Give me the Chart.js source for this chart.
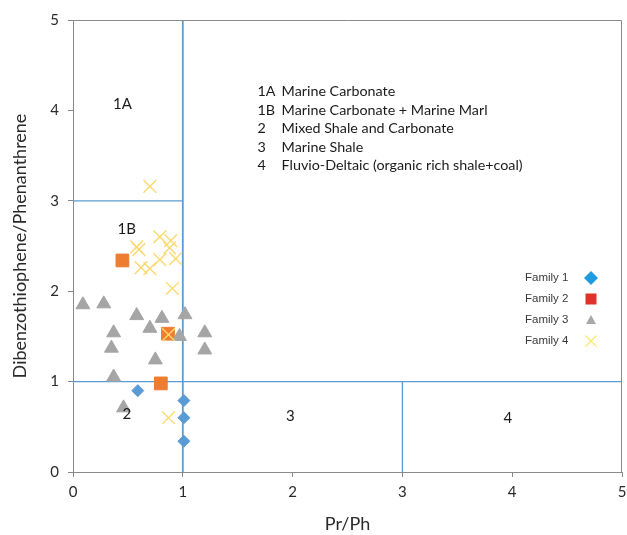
<!DOCTYPE html>
<html>
<head>
<meta charset="utf-8">
<script src="https://cdn.jsdelivr.net/npm/chart.js@4"></script>
<style>
html,body{margin:0;padding:0;background:#fff;}
#wrap{position:relative;width:627px;height:535px;}
</style>
</head>
<body>
<div id="wrap"><canvas id="c" width="627" height="535"></canvas></div>
<script>
// ---- data ----
const xTicks = [0, 1, 2, 3, 4, 5];
const yTicks = [0, 1, 2, 3, 4, 5];
const seriesNames = ['Family 1', 'Family 2', 'Family 3', 'Family 4'];

const family1X = [0.59, 1.01, 1.01, 1.01];
const family1Y = [0.90, 0.79, 0.60, 0.34];

const family2X = [0.45, 0.865, 0.80];
const family2Y = [2.34, 1.53, 0.98];

const family3X = [0.09, 0.28, 0.58, 0.81, 1.02, 0.37, 0.70, 0.97, 1.20, 0.35, 1.20, 0.75, 0.37, 0.46];
const family3Y = [1.85, 1.86, 1.73, 1.70, 1.74, 1.54, 1.59, 1.50, 1.54, 1.37, 1.35, 1.24, 1.05, 0.71];

const family4X = [0.70, 0.79, 0.89, 0.88, 0.58, 0.60, 0.79, 0.935, 0.62, 0.70, 0.905, 0.87, 0.87];
const family4Y = [3.16, 2.60, 2.56, 2.48, 2.49, 2.46, 2.35, 2.36, 2.26, 2.25, 2.03, 1.52, 0.60];

// boundary lines between source-rock fields (x pairs, y pairs)
const boundaryX = [[1, 1], [0, 1], [0, 5], [3, 3]];
const boundaryY = [[0, 5], [3, 3], [1, 1], [0, 1]];

// field labels and where they sit (data units)
const fieldLabels = ['1A', '1B', '2', '3', '4'];
const fieldLabelX = [0.45, 0.49, 0.49, 1.98, 3.96];
const fieldLabelY = [4.07, 2.69, 0.64, 0.62, 0.60];

// key text box
const keyCodes = ['1A', '1B', '2', '3', '4'];
const keyTexts = ['Marine Carbonate', 'Marine Carbonate + Marine Marl', 'Mixed Shale and Carbonate', 'Marine Shale', 'Fluvio-Deltaic (organic rich shale+coal)'];

// ---- build datasets ----
function pts(xs, ys) { return xs.map((x, i) => ({x: x, y: ys[i]})); }

const lineDatasets = boundaryX.map((xs, i) => ({
  label: 'boundary' + i,
  data: pts(xs, boundaryY[i]),
  showLine: true,
  borderColor: '#5b9bd5',
  borderWidth: i === 0 ? 1.8 : 1.3,
  pointRadius: 0,
  pointHoverRadius: 0,
  order: 10
}));

const famStyles = [
  {pointStyle: 'rectRot', radius: 6, bg: '#5b9bd5', border: '#5b9bd5', bw: 1, order: 4},
  {pointStyle: 'rect', radius: 9, bg: '#ed7d31', border: '#ed7d31', bw: 1, order: 3},
  {pointStyle: 'triangle', radius: 8, bg: '#a5a5a5', border: '#a5a5a5', bw: 1, order: 2},
  {pointStyle: 'crossRot', radius: 9, bg: 'rgba(0,0,0,0)', border: '#fbd96e', bw: 1.4, order: 1}
];
const famData = [pts(family1X, family1Y), pts(family2X, family2Y), pts(family3X, family3Y), pts(family4X, family4Y)];

const famDatasets = famData.map((d, i) => ({
  label: seriesNames[i],
  data: d,
  pointStyle: famStyles[i].pointStyle,
  pointRadius: famStyles[i].radius,
  pointHoverRadius: famStyles[i].radius,
  backgroundColor: famStyles[i].bg,
  borderColor: famStyles[i].border,
  pointBorderWidth: famStyles[i].bw,
  showLine: false,
  order: famStyles[i].order
}));

// legend marker look (as in the original key)
const legendColors = ['#1f9ce0', '#e0312b', '#a8a8a8', '#fde96c'];
const legendStyles = ['diamond', 'square', 'triangle', 'cross'];

const FONT = 'Lato, Carlito, "Open Sans", sans-serif';

const annotPlugin = {
  id: 'annot',
  afterDraw(chart) {
    const ctx = chart.ctx;
    const xs = chart.scales.x, ys = chart.scales.y;
    const a = chart.chartArea;
    ctx.save();
    // frame top/right
    ctx.strokeStyle = '#8a8a8a';
    ctx.lineWidth = 1;
    ctx.beginPath();
    ctx.moveTo(a.left, a.top + 0.5);
    ctx.lineTo(a.right - 0.5, a.top + 0.5);
    ctx.lineTo(a.right - 0.5, a.bottom);
    ctx.stroke();

    // field labels
    ctx.fillStyle = '#1a1a1a';
    ctx.font = '15px ' + FONT;
    ctx.textAlign = 'center';
    ctx.textBaseline = 'middle';
    fieldLabels.forEach((t, i) => {
      ctx.fillText(t, xs.getPixelForValue(fieldLabelX[i]), ys.getPixelForValue(fieldLabelY[i]));
    });

    // key text
    ctx.font = '14.3px ' + FONT;
    ctx.textAlign = 'left';
    const codeX = xs.getPixelForValue(1.68);
    const textX = xs.getPixelForValue(1.90);
    keyCodes.forEach((c, i) => {
      const y = ys.getPixelForValue(4.21 - i * 0.205);
      ctx.fillText(c, codeX, y);
      ctx.fillText(keyTexts[i], textX, y);
    });

    // legend
    ctx.font = '11.5px "Liberation Sans", Arial, sans-serif';
    ctx.fillStyle = '#3a3a3a';
    const lx = a.right - 97, mx = a.right - 31;
    seriesNames.forEach((n, i) => {
      const y = a.top + 258 + i * 21;
      ctx.fillText(n, lx, y);
      ctx.fillStyle = legendColors[i];
      ctx.strokeStyle = legendColors[i];
      ctx.beginPath();
      const st = legendStyles[i];
      if (st === 'diamond') {
        ctx.moveTo(mx, y - 7); ctx.lineTo(mx + 7, y); ctx.lineTo(mx, y + 7); ctx.lineTo(mx - 7, y); ctx.closePath(); ctx.fill();
      } else if (st === 'square') {
        ctx.rect(mx - 5.5, y - 5.5, 11, 11); ctx.fill();
      } else if (st === 'triangle') {
        ctx.moveTo(mx, y - 5); ctx.lineTo(mx + 5, y + 4); ctx.lineTo(mx - 5, y + 4); ctx.closePath(); ctx.fill();
      } else {
        ctx.lineWidth = 1.3;
        ctx.moveTo(mx - 5.5, y - 5.5); ctx.lineTo(mx + 5.5, y + 5.5);
        ctx.moveTo(mx + 5.5, y - 5.5); ctx.lineTo(mx - 5.5, y + 5.5);
        ctx.stroke();
      }
      ctx.fillStyle = '#3a3a3a';
    });
    ctx.restore();
  }
};

new Chart(document.getElementById('c'), {
  type: 'scatter',
  data: { datasets: lineDatasets.concat(famDatasets) },
  options: {
    responsive: false,
    animation: false,
    events: [],
    layout: { autoPadding: false, padding: { left: 0, top: 20, right: 5, bottom: 0 } },
    plugins: { legend: { display: false }, tooltip: { enabled: false } },
    scales: {
      x: {
        type: 'linear', min: 0, max: 5,
        afterBuildTicks(s) { s.ticks = xTicks.map(v => ({value: v})); },
        afterFit(s) { s.height = 63; s.paddingRight = 0; s.paddingLeft = 0; },
        grid: { drawOnChartArea: false, drawTicks: true, tickLength: 5, color: '#8a8a8a' },
        border: { display: true, color: '#8a8a8a', width: 1 },
        ticks: { padding: 6, color: '#2a2a2a', font: { family: FONT, size: 15 } },
        title: { display: true, text: 'Pr/Ph', color: '#2a2a2a', font: { family: FONT, size: 18 }, padding: { top: 0, bottom: 0 } }
      },
      y: {
        type: 'linear', min: 0, max: 5,
        afterBuildTicks(s) { s.ticks = yTicks.map(v => ({value: v})); },
        afterFit(s) { s.width = 73; s.paddingTop = 0; s.paddingBottom = 0; },
        grid: { drawOnChartArea: false, drawTicks: true, tickLength: 5, color: '#8a8a8a' },
        border: { display: true, color: '#8a8a8a', width: 1 },
        ticks: { padding: 9, color: '#2a2a2a', font: { family: FONT, size: 15 } },
        title: { display: true, text: 'Dibenzothiophene/Phenanthrene', color: '#2a2a2a', font: { family: FONT, size: 18 }, padding: { top: 9, bottom: 0 } }
      }
    }
  },
  plugins: [annotPlugin]
});
</script>
</body>
</html>
